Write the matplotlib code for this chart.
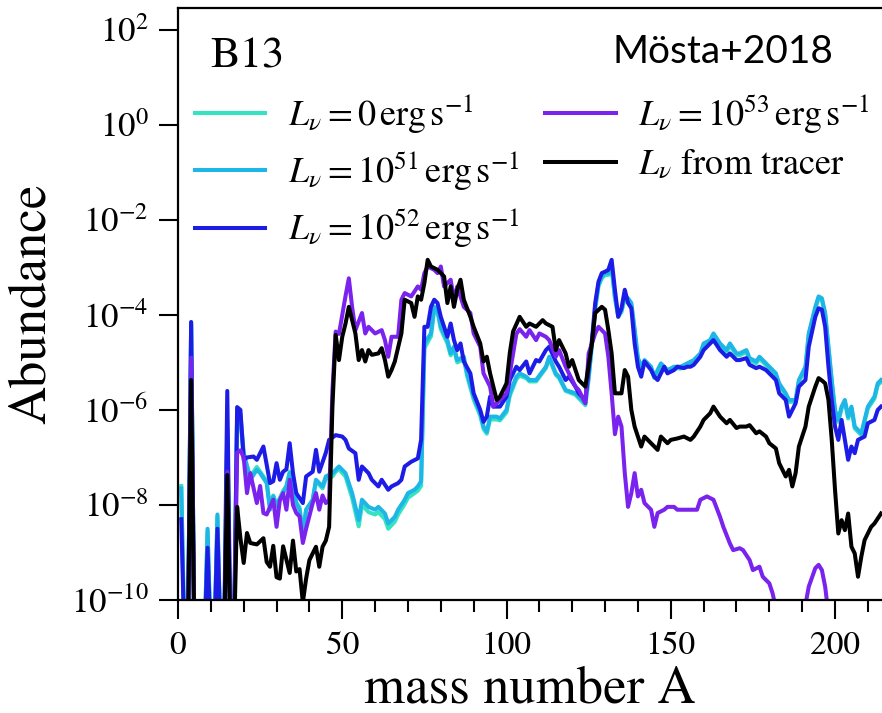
import numpy as np
import matplotlib
matplotlib.use("Agg")
import matplotlib.pyplot as plt
from matplotlib.ticker import FixedLocator, MultipleLocator, LogFormatterMathtext

plt.rcParams['font.family'] = 'STIXGeneral'
plt.rcParams['mathtext.fontset'] = 'stix'

# log10(abundance), values < -10 drop below the axis
A_cyan = [1, 2, 3, 4, 5, 8, 9, 10, 11, 12, 13, 14, 15, 16, 17, 18, 19, 20,
          22, 24, 25, 27, 28, 29, 30, 32, 33, 34, 36, 37, 38, 39, 41, 42, 44, 45, 47, 48, 49,
          51, 53, 55, 56, 58, 60, 61, 63, 64, 66, 67, 69, 70, 72, 73, 74, 75, 77, 78, 79, 80,
          82, 83, 84, 85, 87, 88, 90, 92, 93, 94, 95, 97, 98, 100,
          101, 103, 104, 106, 107, 109, 112, 113, 115, 116, 118, 121, 124, 125, 126, 127, 128, 129, 130,
          131, 132, 133, 134, 135, 136, 137, 138, 139, 140, 141, 142, 144, 145, 147, 149, 151, 153, 155, 157, 159, 160,
          162, 163, 165, 167, 168, 170, 171, 173, 174, 176, 177, 179, 180, 182, 183, 185, 186, 188, 189, 191, 192,
          194, 195, 196, 197, 198, 199, 200,
          201, 202, 203, 204, 205, 206, 208, 209, 210, 212, 213, 214]

L0 = [-7.6, -11, -11, -4.2, -11, -11, -8.55, -11, -11, -8.25, -11, -11, -6.5, -11, -11, -6.2, -6.25, -6.95,
      -7.4, -7.2, -7.3, -7.5, -8.05, -7.8, -8.0, -7.7, -7.6, -7.3, -7.95, -8.05, -8.6, -8.1, -7.9, -7.5, -7.65, -7.45, -7.4, -7.3, -7.25,
      -7.4, -7.85, -8.45, -8.0, -8.15, -8.2, -8.15, -8.3, -8.5, -8.35, -8.2, -7.98, -7.85, -7.75, -7.7, -7.6, -4.7, -4.45, -3.9, -3.95, -4.3,
      -4.6, -4.85, -4.72, -5.0, -4.93, -5.28, -5.78, -6.12, -6.4, -6.5, -6.2, -6.2, -6.22, -6.05,
      -5.7, -5.35, -5.28, -5.33, -5.4, -5.4, -5.12, -4.92, -5.26, -5.33, -5.6, -5.68, -5.9, -5.35, -4.65, -3.88, -3.4, -3.23, -3.16,
      -3.16, -3.02, -3.65, -4.04, -3.94, -3.65, -3.7, -3.8, -4.35, -4.94, -5.12, -4.99, -5.12, -5.33, -5.06, -5.2, -5.12, -5.13, -5.06, -4.99, -4.85, -4.64,
      -4.57, -4.43, -4.64, -4.78, -4.64, -4.85, -4.85, -4.78, -4.95, -5.02, -4.92, -5.06, -5.13, -5.27, -5.48, -5.69, -5.83, -5.83, -5.41, -5.13, -4.43,
      -3.87, -3.65, -3.69, -4.0, -4.71, -5.41, -6.04,
      -6.25, -5.97, -5.83, -6.18, -5.97, -6.39, -6.53, -6.25, -5.97, -5.76, -5.48, -5.41]

L51 = [-7.65, -11, -11, -4.15, -11, -11, -8.5, -11, -11, -8.2, -11, -11, -6.4, -11, -11, -6.06, -6.1, -6.9,
       -7.47, -7.26, -7.33, -7.54, -8.1, -7.82, -8.03, -7.75, -7.61, -7.33, -7.96, -8.1, -8.67, -8.1, -7.89, -7.47, -7.61, -7.4, -7.33, -7.26, -7.19,
       -7.33, -7.75, -8.32, -7.89, -8.04, -8.1, -8.04, -8.18, -8.39, -8.25, -8.1, -7.89, -7.75, -7.68, -7.61, -7.5, -4.6, -4.39, -3.83, -3.89, -4.25,
       -4.53, -4.81, -4.67, -4.95, -4.88, -5.23, -5.72, -6.07, -6.35, -6.46, -6.14, -6.14, -6.18, -6.0,
       -5.65, -5.3, -5.23, -5.3, -5.37, -5.37, -5.09, -4.88, -5.23, -5.3, -5.58, -5.65, -5.86, -5.3, -4.6, -3.83, -3.35, -3.19, -3.12,
       -3.12, -2.98, -3.61, -4.0, -3.9, -3.61, -3.65, -3.75, -4.3, -4.9, -5.09, -4.95, -5.09, -5.3, -5.02, -5.16, -5.09, -5.09, -5.02, -4.95, -4.81, -4.6,
       -4.53, -4.39, -4.6, -4.74, -4.6, -4.81, -4.81, -4.74, -4.91, -4.98, -4.88, -5.02, -5.09, -5.23, -5.44, -5.65, -5.79, -5.79, -5.37, -5.09, -4.39,
       -3.83, -3.61, -3.65, -3.96, -4.67, -5.37, -6.0,
       -6.21, -5.93, -5.79, -6.14, -5.93, -6.35, -6.49, -6.21, -5.93, -5.72, -5.44, -5.37]

A_blue = [1, 2, 3, 4, 5, 8, 9, 10, 11, 12, 13, 14, 15, 16, 17, 18, 19, 20,
          21, 23, 24, 26, 28, 29, 30, 31, 32, 33, 34, 35, 36, 38, 39, 41, 42, 43, 45, 46, 48,
          50, 51, 52, 54, 55, 56, 58, 59, 61, 62, 64, 65, 67, 68, 69, 71, 73, 74, 75, 76, 77, 78, 79, 80,
          81, 82, 83, 84, 85, 86, 87, 89, 90, 92, 93, 94, 95, 96, 97, 98, 100,
          101, 103, 104, 106, 107, 109, 110, 112, 113, 115, 116, 118, 119, 121, 122, 124, 125, 126, 127, 128, 129, 130,
          131, 132, 133, 134, 135, 136, 137, 138, 139, 140, 141, 142, 144, 145, 146, 148, 149, 151, 152, 154, 155, 156, 157, 159, 160,
          162, 163, 165, 167, 168, 170, 171, 173, 174, 176, 177, 179, 180, 182, 183, 185, 186, 188, 189, 191, 192,
          194, 195, 196, 197, 198, 199, 200,
          201, 202, 203, 204, 205, 206, 207, 209, 210, 212, 213, 214]

L52 = [-8.3, -11, -11, -4.15, -11, -11, -8.9, -11, -11, -8.5, -11, -11, -5.6, -11, -11, -5.94, -6.0, -7.05,
       -7.0, -6.98, -7.05, -6.77, -7.54, -7.5, -7.12, -7.47, -7.3, -7.25, -6.7, -7.33, -7.75, -7.96, -7.4, -7.3, -6.84, -7.3, -6.9, -6.63, -6.53,
       -6.56, -6.63, -6.81, -6.91, -7.47, -7.19, -7.33, -7.47, -7.61, -7.47, -7.68, -7.61, -7.54, -7.47, -7.19, -7.09, -7.02, -6.63, -4.25, -4.25, -3.83, -3.68, -3.75, -4.04,
       -4.25, -4.46, -4.18, -4.53, -4.74, -4.6, -4.98, -5.23, -5.65, -6.0, -6.25, -6.14, -5.72, -5.93, -5.93, -5.93, -5.72,
       -5.37, -5.09, -5.16, -4.98, -5.23, -4.95, -4.98, -4.74, -4.67, -4.98, -5.09, -5.37, -5.3, -5.51, -5.65, -5.79, -5.16, -4.53, -3.75, -3.3, -3.12, -3.09,
       -3.05, -2.84, -3.47, -4.04, -3.86, -3.47, -3.75, -3.86, -4.6, -5.09, -5.3, -4.98, -5.16, -5.3, -5.37, -5.09, -5.23, -5.16, -5.09, -5.12, -5.09, -5.09, -5.05, -4.88, -4.74,
       -4.6, -4.53, -4.74, -4.88, -4.81, -4.95, -4.95, -4.91, -5.05, -5.12, -5.09, -5.16, -5.23, -5.37, -5.65, -5.79, -6.14, -5.86, -5.51, -5.37, -4.67,
       -4.04, -3.86, -3.89, -4.25, -5.09, -5.79, -6.35,
       -6.63, -6.21, -6.63, -7.05, -6.77, -6.91, -6.63, -6.56, -6.28, -6.21, -6.0, -5.93]

A_purple = [1, 3, 4, 5, 14, 15, 16, 17, 18, 19, 20,
            21, 22, 24, 25, 26, 27, 29, 30, 31, 32, 33, 34, 35, 36, 37, 38, 39, 41, 42, 43, 44, 45, 46, 47, 48, 49, 50,
            51, 52, 53, 54, 56, 57, 58, 60, 62, 63, 64, 65, 67, 68, 69, 71, 73, 74, 75, 76, 78, 79, 80,
            81, 83, 84, 85, 87, 89, 90, 92, 93, 95, 96, 98, 100,
            101, 102, 103, 104, 106, 107, 109, 110, 112, 113, 115, 116, 118, 119, 121, 122, 124, 125, 127, 128, 130,
            131, 132, 133, 134, 135, 136, 137, 138, 139, 140, 141, 142, 144, 145, 146, 148, 149, 151, 152, 154, 156, 158, 159,
            161, 163, 165, 166, 168, 169, 171, 172, 174, 175, 177, 178, 180, 181, 183, 190, 191, 192, 194, 195, 196, 197, 198, 200, 214]

L53 = [-11, -11, -4.9, -11, -11, -7.3, -11, -11, -6.9, -6.85, -7.0,
       -7.75, -7.33, -7.96, -7.6, -8.17, -8.2, -7.89, -8.46, -7.9, -7.75, -8.1, -7.47, -8.0, -8.17, -8.24, -8.8, -8.5, -7.96, -7.75, -8.1, -7.8, -7.96, -7.9, -5.6, -4.35, -4.4, -4.0,
       -3.6, -3.23, -3.83, -4.32, -3.96, -4.39, -4.25, -4.39, -4.32, -4.53, -4.88, -4.46, -4.46, -3.68, -3.54, -3.61, -3.4, -3.47, -3.12, -2.98, -3.05, -3.12, -2.98,
       -3.4, -3.26, -3.68, -3.4, -3.83, -3.96, -4.39, -4.67, -5.23, -5.51, -5.93, -5.79, -5.65,
       -5.23, -4.81, -4.4, -4.3, -4.46, -4.32, -4.53, -4.39, -4.46, -4.53, -4.88, -4.74, -5.09, -5.23, -5.51, -5.58, -5.86, -4.81, -4.39, -4.25, -4.39,
       -4.88, -5.65, -6.51, -6.14, -6.35, -7.33, -8.04, -7.75, -7.33, -7.82, -7.68, -7.96, -8.1, -8.46, -8.17, -8.1, -8.04, -8.04, -8.1, -8.1, -8.1, -8.1, -7.89,
       -7.82, -7.89, -8.25, -8.46, -8.81, -8.95, -8.91, -8.95, -9.16, -9.37, -9.3, -9.51, -9.65, -9.86, -10.5, -10.5, -10.1, -9.72, -9.33, -9.26, -9.37, -9.72, -10.3, -11, -11]

A_black = [1, 3, 4, 5, 14, 15, 16, 17, 18, 19, 20,
           21, 22, 24, 26, 27, 28, 29, 30, 31, 32, 34, 35, 36, 37, 38, 39, 40, 42, 43, 44, 45, 46, 47, 48, 49, 50,
           51, 52, 54, 55, 56, 57, 58, 59, 61, 62, 63, 64, 65, 66, 68, 69, 71, 72, 73, 74, 75, 76, 77, 79, 80,
           81, 82, 83, 84, 85, 86, 87, 89, 90, 92, 93, 94, 95, 96, 97, 98, 100,
           101, 102, 104, 106, 107, 109, 111, 112, 114, 115, 116, 118, 119, 120, 122, 123, 124, 126, 127, 129, 130,
           131, 132, 133, 135, 136, 137, 138, 139, 140, 141, 142, 144, 146, 147, 149, 150, 152, 154, 156, 157, 159, 160,
           162, 163, 165, 167, 168, 170, 171, 173, 174, 176, 177, 179, 180, 182, 183, 185, 186, 187, 188, 189, 191, 192,
           194, 195, 196, 197, 198, 199, 200,
           201, 202, 203, 204, 205, 206, 207, 208, 209, 211, 212, 214]

L_tracer = [-11, -11, -5.37, -11, -11, -7.37, -11, -11, -8.04, -8.7, -9.22,
            -8.59, -8.8, -8.83, -8.7, -9.2, -9.3, -8.86, -9.52, -9.55, -8.87, -9.43, -8.75, -9.4, -9.35, -10.05, -9.55, -9.16, -8.88, -9.3, -8.88, -8.75, -8.46, -5.94, -4.42, -4.95, -4.46,
            -4.18, -3.83, -4.39, -4.95, -4.74, -4.98, -4.74, -4.84, -4.81, -4.7, -4.95, -5.3, -5.16, -4.98, -4.39, -3.68, -3.75, -4.04, -3.61, -3.68, -3.33, -2.84, -2.98, -3.05, -3.12,
            -3.19, -3.75, -3.4, -3.83, -3.47, -3.26, -3.68, -4.04, -4.25, -4.6, -4.98, -4.88, -5.23, -5.51, -5.79, -5.72, -5.44,
            -4.8, -4.35, -4.04, -4.25, -4.18, -4.25, -4.11, -4.18, -4.25, -4.74, -4.53, -4.81, -5.09, -4.95, -5.37, -5.44, -5.51, -4.6, -3.96, -3.83, -3.89,
            -4.32, -4.81, -5.65, -5.65, -5.16, -5.3, -6.0, -6.35, -6.56, -6.77, -6.56, -6.7, -6.84, -6.56, -6.7, -6.63, -6.6, -6.56, -6.63, -6.56, -6.35, -6.21,
            -6.07, -5.93, -6.14, -6.28, -6.21, -6.38, -6.35, -6.35, -6.32, -6.49, -6.45, -6.56, -6.7, -6.81, -7.12, -7.4, -7.26, -7.61, -7.33, -6.77, -6.35, -5.93,
            -5.51, -5.33, -5.38, -5.44, -5.79, -6.63, -7.68,
            -8.6, -8.32, -8.53, -8.18, -8.88, -9.02, -9.51, -9.09, -8.74, -8.46, -8.39, -8.18]

labels = [r'$L_\nu = 0\,\mathrm{erg\,s^{-1}}$',
          r'$L_\nu = 10^{51}\,\mathrm{erg\,s^{-1}}$',
          r'$L_\nu = 10^{52}\,\mathrm{erg\,s^{-1}}$',
          r'$L_\nu = 10^{53}\,\mathrm{erg\,s^{-1}}$',
          r'$L_\nu$ from tracer']
colors = ['#35E3C2', '#1DB6E6', '#1C1CE6', '#7A22EE', 'black']

series = [(A_cyan, L0), (A_cyan, L51), (A_blue, L52), (A_purple, L53), (A_black, L_tracer)]

fig = plt.figure(figsize=(8.82, 7.13), dpi=100)
ax = fig.add_axes([178 / 882, 113 / 713, 704 / 882, 592 / 713])

for (a, v), c, lab in zip(series, colors, labels):
    ax.plot(a, 10.0 ** np.array(v), color=c, lw=2.9, label=lab)

ax.set_yscale('log')
ax.set_xlim(0, 214.3)
ax.set_ylim(1e-10, 10 ** 2.46)
ax.yaxis.set_major_locator(FixedLocator([10.0 ** k for k in range(-10, 3, 2)]))
ax.yaxis.set_major_formatter(LogFormatterMathtext())
ax.yaxis.set_minor_locator(FixedLocator([]))
ax.xaxis.set_major_locator(MultipleLocator(50))
ax.xaxis.set_minor_locator(MultipleLocator(10))

ax.tick_params(which='major', direction='out', length=14, width=1.5, labelsize=24)
ax.tick_params(which='minor', direction='out', length=8.5, width=1.5)
ax.tick_params(axis='x', which='major', pad=9)
ax.tick_params(axis='y', which='major', labelsize=25, pad=7)
for s in ['left', 'bottom', 'top']:
    ax.spines[s].set_linewidth(1.6)
ax.spines['right'].set_visible(False)

ax.set_xlabel('mass number A', fontsize=38, labelpad=3)
ax.set_ylabel('Abundance', fontsize=38, labelpad=10)

leg = ax.legend(loc='upper left', bbox_to_anchor=(0.024, 0.858), ncol=2, frameon=False,
                fontsize=26, handlelength=1.95, handletextpad=0.62, columnspacing=0.73,
                labelspacing=0.37, borderpad=0, borderaxespad=0)

fig.text(210 / 882, 1 - 68 / 713, 'B13', fontsize=32, va='baseline')
fig.text(613 / 882, 1 - 63 / 713, 'Mösta+2018', fontsize=28, family='Lato', va='baseline')

fig.savefig('out.png', dpi=100)
